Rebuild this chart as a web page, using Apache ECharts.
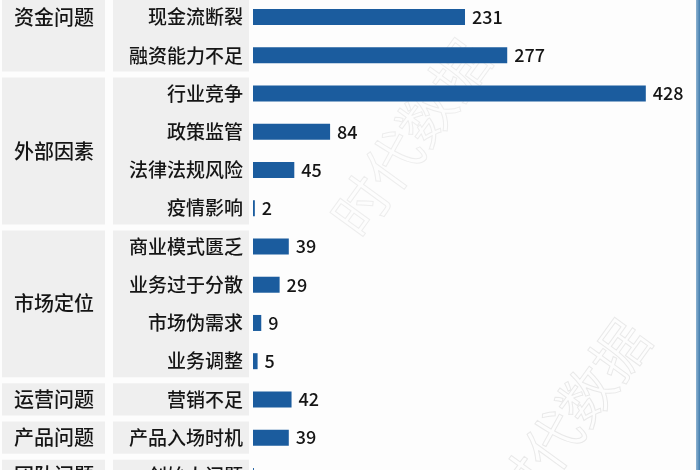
<!DOCTYPE html>
<html>
<head>
<meta charset="utf-8">
<script src="https://cdn.jsdelivr.net/npm/echarts@6/dist/echarts.min.js"></script>
<style>
html,body{margin:0;padding:0;background:#fdfdfd;overflow:hidden;width:700px;height:470px;}
#main{width:700px;height:497px;margin-top:-2px;}
</style>
</head>
<body>
<div id="main"></div>
<script>
const groupNames = ['资金问题','外部因素','市场定位','运营问题','产品问题','团队问题'];
const groupFirstRow = [-1, 2, 6, 10, 11, 12];
const groupLastRow  = [1, 5, 9, 10, 11, 12];
const categories = ['现金流断裂','融资能力不足','行业竞争','政策监管','法律法规风险','疫情影响','商业模式匮乏','业务过于分散','市场伪需求','业务调整','营销不足','产品入场时机','创始人问题'];
const values = [231,277,428,84,45,2,39,29,9,5,42,39,1];

const FONT = '"Noto Sans CJK SC", "Noto Sans", sans-serif';
const chart = echarts.init(document.getElementById('main'));
chart.setOption({
  backgroundColor: '#fdfdfd',
  animation: false,
  grid: {left: 253, right: 34, top: 0, bottom: 0, containLabel: false},
  xAxis: {type: 'value', min: 0, max: 450, show: false},
  yAxis: {
    type: 'category', data: categories, inverse: true,
    axisLine: {show: false}, axisTick: {show: false}, splitLine: {show: false},
    axisLabel: {margin: 10, fontSize: 19, fontWeight: 500, color: '#151515', fontFamily: FONT}
  },
  series: [{
    type: 'bar', data: values, barWidth: 16, z: 5,
    itemStyle: {color: '#1b5c9e'},
    label: {show: true, position: 'right', distance: 7, fontSize: 18, fontWeight: 500, color: '#151515', fontFamily: FONT}
  }]
});

function rowY(i) {
  const y0 = chart.convertToPixel({yAxisIndex: 0}, 0);
  const y1 = chart.convertToPixel({yAxisIndex: 0}, 1);
  return y0 + (y1 - y0) * i;
}
const band = rowY(1) - rowY(0);
const elements = [];
for (let g = 0; g < groupNames.length; g++) {
  const top = rowY(groupFirstRow[g]) - band / 2 + 3;
  const bot = rowY(groupLastRow[g]) + band / 2 - 3;
  elements.push({type: 'rect', z: 0, shape: {x: 2, y: top, width: 103, height: bot - top}, style: {fill: '#efefef'}});
  elements.push({type: 'rect', z: 0, shape: {x: 113, y: top, width: 136, height: bot - top}, style: {fill: '#efefef'}});
  elements.push({type: 'text', z: 3, x: 54, y: (top + bot) / 2,
    style: {text: groupNames[g], fontSize: 20, fontWeight: 500, fontFamily: FONT, fill: '#151515', align: 'center', verticalAlign: 'middle'}});
}
// watermark
elements.push({type: 'text', z: 1, x: 570, y: 420, rotation: Math.PI * 0.3,
  style: {text: '时代数据', fontSize: 56, fontFamily: FONT, fill: 'rgba(0,0,0,0)', stroke: 'rgba(190,190,190,0.3)', lineWidth: 1, align: 'center', verticalAlign: 'middle'}});
elements.push({type: 'text', z: 1, x: 410, y: 140, rotation: Math.PI * 0.3,
  style: {text: '时代数据', fontSize: 56, fontFamily: FONT, fill: 'rgba(0,0,0,0)', stroke: 'rgba(190,190,190,0.25)', lineWidth: 1, align: 'center', verticalAlign: 'middle'}});
// right border
elements.push({type: 'rect', z: 6, shape: {x: 696, y: 0, width: 4, height: 497},
  style: {fill: new echarts.graphic.LinearGradient(0, 0, 1, 0, [{offset: 0, color: '#8fb4d2'}, {offset: 1, color: '#3f7cad'}])}});
chart.setOption({graphic: {elements: elements}});
</script>
</body>
</html>
